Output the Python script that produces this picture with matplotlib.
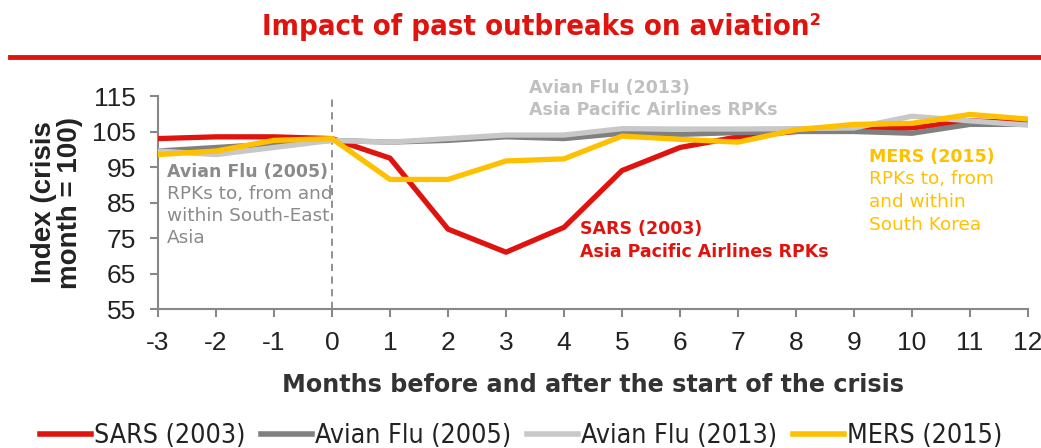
import matplotlib
matplotlib.use("Agg")
import matplotlib.pyplot as plt
from matplotlib.lines import Line2D
from matplotlib import font_manager as fm

plt.rcParams["axes.unicode_minus"] = False

months = [-3, -2, -1, 0, 1, 2, 3, 4, 5, 6, 7, 8, 9, 10, 11, 12]
sars_2003 = [103, 103.5, 103.5, 103, 97.5, 77.5, 71, 78, 94, 100.5, 103.5, 105, 105.5, 106, 108, 107.5]
avian_2005 = [99.5, 100.5, 101.5, 102.5, 102, 102.5, 103.5, 103, 104.5, 104.2, 104.7, 105, 105, 104.5, 107, 107]
avian_2013 = [99.5, 98.5, 100.5, 102.5, 102, 103, 104, 104, 105.8, 105.7, 105.7, 105.8, 106, 109.3, 108, 106.8]
mers_2015 = [98.5, 99.5, 102.5, 103, 91.5, 91.5, 96.7, 97.3, 103.7, 102.8, 102, 105.5, 107, 107.3, 109.8, 108.5]

series_names = ["SARS (2003)", "Avian Flu (2005)", "Avian Flu (2013)", "MERS (2015)"]
y_ticks = [55, 65, 75, 85, 95, 105, 115]
x_ticks = list(range(-3, 13))

RED = "#E0140F"
DARK = "#808080"
LIGHT = "#C8C8C8"
YELLOW = "#FFC000"
colors = [RED, DARK, LIGHT, YELLOW]


def find_narrow(bold):
    # look for any installed narrow / condensed face
    for f in fm.fontManager.ttflist:
        name = (f.fname + " " + f.name).lower()
        if ("narrow" in name or "condensed" in name) and "italic" not in name and "oblique" not in name:
            is_bold = f.weight in ("bold", 700) or "bold" in f.fname.lower()
            if is_bold == bold:
                return fm.FontProperties(fname=f.fname)
    return None


narrow_bold = find_narrow(True)
narrow_reg = find_narrow(False)

fig = plt.figure(figsize=(10.41, 4.48), dpi=100)
ax = fig.add_axes([158 / 1041, 1 - 309 / 448, (1028 - 158) / 1041, (309 - 96) / 448])

lw = 3.8
ax.plot(months, sars_2003, color=RED, lw=lw, zorder=3)
ax.plot(months, avian_2005, color=DARK, lw=lw, zorder=4)
ax.plot(months, avian_2013, color=LIGHT, lw=lw, zorder=5)
ax.plot(months, mers_2015, color=YELLOW, lw=lw, zorder=6)
ax.axvline(0, color="#888888", lw=1.3, ls=(0, (4, 3)), zorder=2)

ax.set_xlim(-3, 12)
ax.set_ylim(55, 115)
ax.set_xticks(x_ticks)
ax.set_yticks(y_ticks)
for s in ["top", "right"]:
    ax.spines[s].set_visible(False)
for s in ["left", "bottom"]:
    ax.spines[s].set_color("#888888")
    ax.spines[s].set_linewidth(1.5)
ax.tick_params(axis="both", length=6, width=1.5, color="#888888",
               labelsize=19, labelcolor="#222222", pad=10)
for lab in ax.get_xticklabels() + ax.get_yticklabels():
    lab.set_family("Liberation Sans")

ax.set_ylabel("Index (crisis\nmonth = 100)", fontsize=20, fontweight="bold",
              family="Liberation Sans", color="#222222", linespacing=1.0)
ax.yaxis.set_label_coords(-0.086, 0.5)
ax.set_xlabel("Months before and after the start of the crisis", fontsize=17.2,
              fontweight="bold", family="DejaVu Sans", color="#333333", labelpad=13)


def px2val(y):
    return 115 - (y - 96) * 60 / 213


def label_block(x, centers, lines, color, bold_first):
    for i, (yc, txt) in enumerate(zip(centers, lines)):
        bold = (bold_first is True and i == 0) or bold_first == "all"
        ax.text(x, px2val(yc), txt, color=color, fontsize=12.5 if bold else 13.3,
                family="DejaVu Sans", fontweight="bold" if bold else "normal",
                va="center", ha="left", clip_on=False, zorder=7)


label_block(-2.84, [172, 194, 216, 238],
            ["Avian Flu (2005)", "RPKs to, from and", "within South-East", "Asia"], "#8a8a8a", True)
label_block(3.4, [88, 110], ["Avian Flu (2013)", "Asia Pacific Airlines RPKs"], "#c0c0c0", "all")
label_block(4.28, [229, 252], ["SARS (2003)", "Asia Pacific Airlines RPKs"], RED, "all")
label_block(9.26, [157, 179, 202, 225],
            ["MERS (2015)", "RPKs to, from", "and within", "South Korea"], YELLOW, True)

# title and rule
title = "Impact of past outbreaks on aviation\u00b2"
if narrow_bold is not None:
    tp = narrow_bold.copy()
    tp.set_size(21)
else:
    tp = fm.FontProperties(family="Liberation Sans", weight="bold", size=20)
fig.text(0.52, 1 - 27 / 448, title, color=RED, fontproperties=tp, ha="center", va="center")
fig.add_artist(Line2D([10 / 1041, 1.0], [1 - 57 / 448, 1 - 57 / 448], color=RED, lw=3.5))

if narrow_reg is not None:
    lp = narrow_reg.copy()
    lp.set_size(19.2)
else:
    lp = fm.FontProperties(family="Liberation Sans", size=18)
handles = [Line2D([], [], color=c, lw=4) for c in colors]
fig.legend(handles, series_names, loc="center left",
           bbox_to_anchor=(40 / 1041, 1 - 436 / 448), ncol=4, frameon=False,
           prop=lp, handlelength=1.9, handletextpad=0.12, columnspacing=0.6,
           borderpad=0, borderaxespad=0, labelcolor="#222222")

fig.savefig("out.png", dpi=100)
